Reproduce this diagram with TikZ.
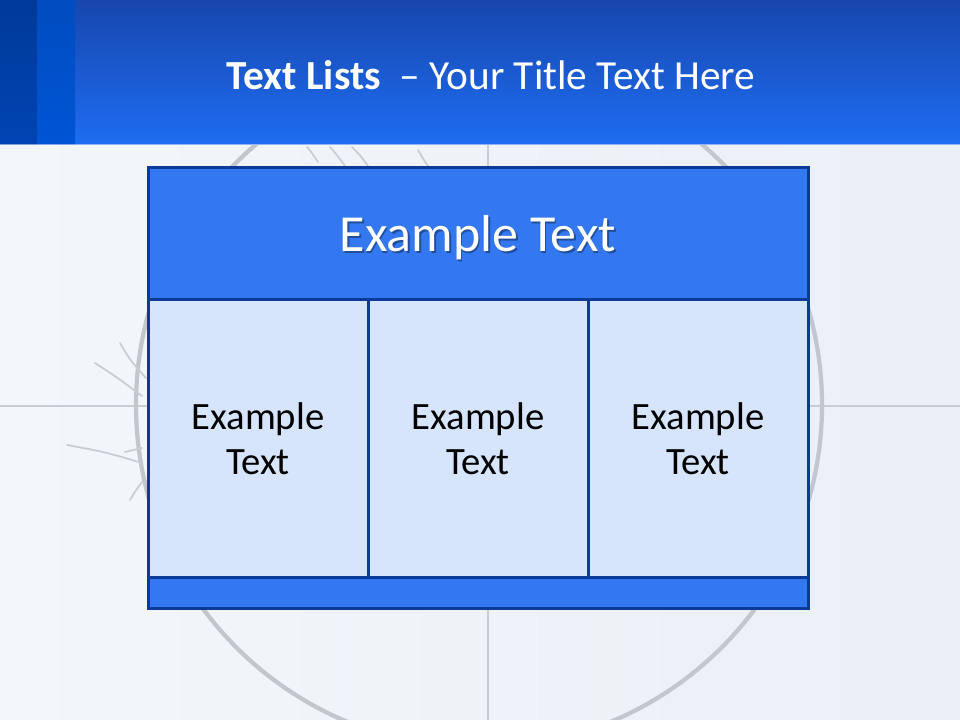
\documentclass[tikz,border=0pt]{standalone}
\usepackage{fontspec}
\setmainfont{Carlito}
\definecolor{bgA}{HTML}{F3F6FA}
\definecolor{bgB}{HTML}{EBEFF6}
\definecolor{barTop}{HTML}{1747AE}
\definecolor{barBot}{HTML}{1E6DF2}
\definecolor{stripeA}{HTML}{003A98}
\definecolor{stripeAb}{HTML}{0044B4}
\definecolor{stripeB}{HTML}{004CC0}
\definecolor{stripeBb}{HTML}{0055D4}
\definecolor{boxLine}{HTML}{0B3A99}
\definecolor{headFill}{HTML}{3378F0}
\definecolor{cellFill}{HTML}{D6E4FC}
\definecolor{eyeGray}{HTML}{C3C6CD}
\definecolor{lashGray}{HTML}{C9CCD2}
\tikzset{
  boxpart/.style={draw=boxLine, line width=2.25pt, inner sep=0pt, outer sep=0pt, anchor=north west},
  headbox/.style={boxpart, fill=headFill},
  cellbox/.style={boxpart, fill=cellFill, minimum width=165pt, minimum height=207.75pt},
  celltext/.style={font=\fontsize{29}{34}\selectfont, align=center, text=black},
  lash/.style={draw=lashGray, line width=1.3pt, line cap=round},
}
\begin{document}
\begin{tikzpicture}[x=0.75pt, y=-0.75pt]
\useasboundingbox (0,0) rectangle (960,720);
% background
\shade[left color=bgA, right color=bgB] (0,0) rectangle (960,720);
% eye decoration
\draw[lashGray, line width=1.5pt] (0,406) -- (960,406);
\draw[lashGray, line width=1.5pt] (488,145) -- (488,720);
\draw[eyeGray, line width=3.2pt] (479,405) circle[radius=343];
\draw[lash] (120,343) .. controls (130,360) .. (146,378);
\draw[lash] (95,363) .. controls (118,378) .. (142,396);
\draw[lash] (67,445) .. controls (105,452) .. (142,463);
\draw[lash] (125,452) .. controls (133,450) .. (142,448);
\draw[lash] (130,500) .. controls (136,490) .. (142,482);
\draw[lash] (307,147) .. controls (312,153) .. (318,162);
\draw[lash] (330,147) .. controls (337,155) .. (345,166);
\draw[lash] (352,147) .. controls (360,155) .. (368,166);
\draw[lash] (418,150) .. controls (422,157) .. (428,166);
% title bar
\shade[top color=barTop, bottom color=barBot] (0,0) rectangle (960,145);
\shade[top color=stripeA, bottom color=stripeAb] (0,0) rectangle (37,145);
\shade[top color=stripeB, bottom color=stripeBb] (37,0) rectangle (75,145);
\draw[white, opacity=0.5, line width=0.75pt] (0,145) -- (960,145);
\node[text=white, font=\fontsize{31}{37}\selectfont] (title) at (491,75)
  {\textbf{Text Lists}\ \ – Your Title Text Here};
% box
\node[headbox, minimum width=495pt, minimum height=99pt] (head) at (148,168) {};
\coordinate (hc) at ([yshift=-3pt]head.center);
\node[text=black, opacity=0.35, font=\fontsize{39}{45}\selectfont] (headshadow) at ([shift={(1.5,1.5)}]hc) {Example Text};
\node[text=white, font=\fontsize{39}{45}\selectfont] (headtext) at (hc) {Example Text};
\node[cellbox] (c1) at (148,300) {};
\node[cellbox] (c2) at (368,300) {};
\node[cellbox] (c3) at (588,300) {};
\node[headbox, minimum width=495pt, minimum height=23.25pt] (foot) at (148,577) {};
\node[celltext] (t1) at (c1.center) {Example\\Text};
\node[celltext] (t2) at (c2.center) {Example\\Text};
\node[celltext] (t3) at (c3.center) {Example\\Text};
\end{tikzpicture}
\end{document}
